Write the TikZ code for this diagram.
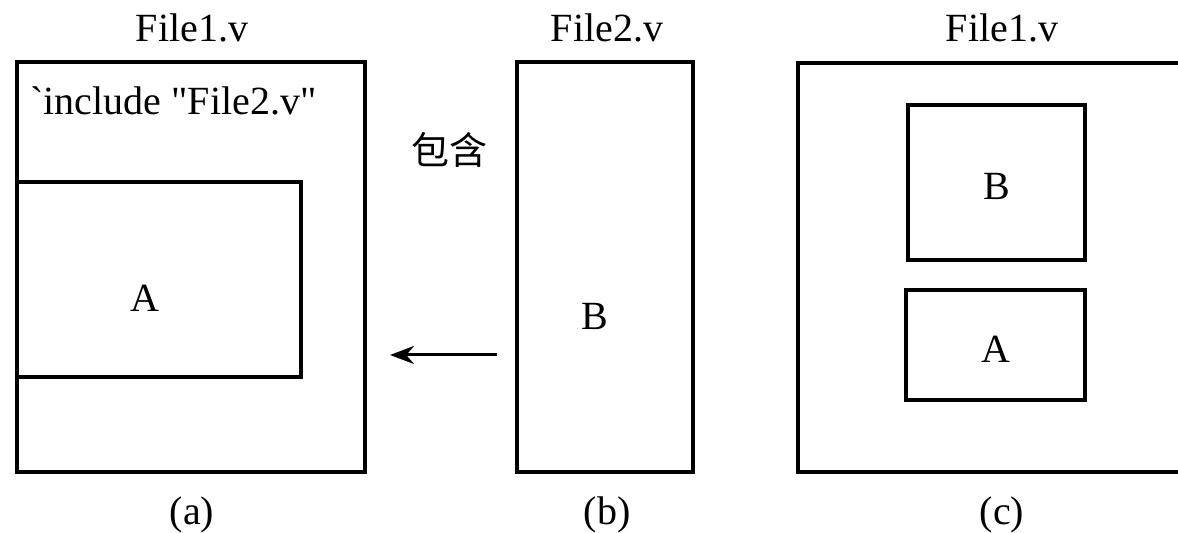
\documentclass[tikz,border=0pt]{standalone}
\usepackage{fontspec}
\setmainfont{Liberation Serif}
\newfontfamily\rawserif{Liberation Serif}[Ligatures=TeXOff]
\newfontfamily\cjk{Noto Sans CJK SC}
\usetikzlibrary{arrows.meta}
\begin{document}
\begin{tikzpicture}[x=0.5pt,y=-0.5pt,
  box/.style={draw,line width=1.8pt,inner sep=0pt,outer sep=0pt},
  lbl/.style={font=\fontsize{20}{24}\selectfont,inner sep=0pt}]
\useasboundingbox (0,0) rectangle (1178,533);
% (a)
\node[box,minimum width=174pt,minimum height=205pt] (fa) at (191,267) {};
\node[box,minimum width=142pt,minimum height=97.5pt] (ia) at (159,279.5) {};
\node[lbl] (ta) at (145,298) {A};
\node[lbl,anchor=west,font=\rawserif\fontsize{20}{24}\selectfont] (inc) at (30,101) {`include "File2.v"};
\node[lbl] (h1) at (192,28) {File1.v};
\node[lbl] (ca) at (192,515) {(a)};
% (b)
\node[box,minimum width=88pt,minimum height=205pt] (fb) at (605,267) {};
\node[lbl] (tb) at (595,316) {B};
\node[lbl] (h2) at (607,28) {File2.v};
\node[lbl] (cb) at (607,515) {(b)};
\node[font=\cjk\fontsize{19}{22}\selectfont,inner sep=0pt] (bh) at (449,150) {包含};
\coordinate (as) at (497,355);
\coordinate (ae) at (390,355);
\draw[line width=1.5pt,-{Stealth[length=12pt,width=9pt]}] (as) -- (ae);
% (c)
\coordinate (c1) at (1200,63);
\coordinate (c2) at (798,63);
\coordinate (c3) at (798,472);
\coordinate (c4) at (1200,472);
\draw[line width=1.8pt] (c1) -- (c2) -- (c3) -- (c4);
\node[box,minimum width=88.5pt,minimum height=77.5pt] (cB) at (996.5,182.5) {};
\node[lbl] (tcb) at (997,186) {B};
\node[box,minimum width=89.5pt,minimum height=55pt] (cA) at (995.5,345) {};
\node[lbl] (tca) at (996,349) {A};
\node[lbl] (h3) at (1002,28) {File1.v};
\node[lbl] (cc) at (1002,515) {(c)};
\end{tikzpicture}
\end{document}
